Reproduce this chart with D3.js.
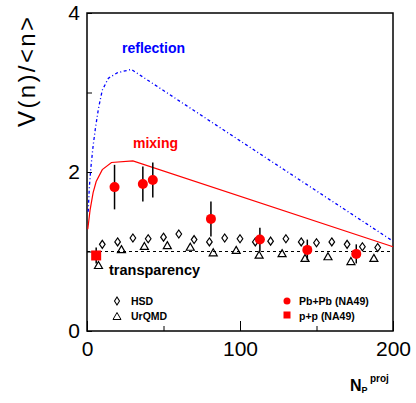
<!DOCTYPE html>
<html>
<head>
<meta charset="utf-8">
<script src="https://cdn.jsdelivr.net/npm/d3@7"></script>
<style>
  body { margin: 0; background: #fff; }
  text { font-family: "Liberation Sans", Arial, Helvetica, sans-serif; }
</style>
</head>
<body>
<svg width="416" height="403"></svg>
<script>
// values
const hsdX = [10, 20, 30, 40, 50, 60, 70, 80, 90, 100, 110, 120, 130, 140, 150, 160, 170, 180, 190];
const hsdY = [1.09, 1.12, 1.17, 1.16, 1.18, 1.22, 1.15, 1.12, 1.17, 1.16, 1.12, 1.13, 1.16, 1.12, 1.11, 1.12, 1.09, 1.06, 1.05];

const urqmdX = [7.5, 22.5, 37.5, 52.5, 67.5, 82.5, 97.5, 112.5, 127.5, 142.5, 157.5, 172.5, 187.5];
const urqmdY = [0.83, 1.03, 1.07, 1.08, 1.06, 0.99, 1.02, 0.96, 0.98, 0.92, 0.94, 0.88, 0.92];

const pbX = [18, 36.5, 43, 81, 113, 144, 176];
const pbY = [1.81, 1.85, 1.90, 1.41, 1.15, 1.02, 0.97];
const pbErr = [0.28, 0.22, 0.22, 0.22, 0.15, 0.13, 0.12];

const ppX = [6];
const ppY = [0.95];
const ppErr = [0.1];

const mixX = [0.5, 1, 2, 4, 6, 10, 16, 30, 200];
const mixY = [1.28, 1.36, 1.52, 1.74, 1.88, 2.03, 2.12, 2.14, 1.06];

const reflX = [0.8, 1.5, 2.5, 4, 5.5, 7.5, 10, 14, 20, 29, 200];
const reflY = [1.5, 1.8, 2.05, 2.33, 2.55, 2.8, 3.03, 3.18, 3.25, 3.29, 1.13];

const xMajor = [0, 100, 200];
const xMinor = [50, 150];
const yTicks = [0, 1, 2, 3, 4];
const yLabels = [0, 2, 4];

const svg = d3.select('svg');

const x = d3.scaleLinear().domain([0, 200]).range([87, 393]);
const y = d3.scaleLinear().domain([0, 4]).range([331, 13]);

// axes, ticks pointing inside the frame
svg.append('g')
  .attr('transform', `translate(0,${y(0)})`)
  .call(d3.axisBottom(x).tickValues(xMajor).tickSize(-10).tickPadding(10).tickFormat(d3.format('d')))
  .call(g => g.select('.domain').remove())
  .call(g => g.selectAll('text').attr('font-size', 21).attr('font-family', null).attr('fill', '#000'));

svg.append('g')
  .attr('transform', `translate(0,${y(0)})`)
  .call(d3.axisBottom(x).tickValues(xMinor).tickSize(-5).tickFormat(''))
  .call(g => g.select('.domain').remove());

svg.append('g')
  .attr('transform', `translate(${x(0)},0)`)
  .call(d3.axisLeft(y).tickValues(yTicks).tickSize(-5).tickPadding(7)
    .tickFormat(d => yLabels.includes(d) ? d : ''))
  .call(g => g.select('.domain').remove())
  .call(g => g.selectAll('text').attr('font-size', 21).attr('font-family', null).attr('fill', '#000'));

svg.selectAll('.tick line').attr('stroke', '#000');

// frame
svg.append('rect')
  .attr('x', x(0)).attr('y', y(4))
  .attr('width', x(200) - x(0)).attr('height', y(0) - y(4))
  .attr('fill', 'none').attr('stroke', '#000').attr('stroke-width', 1.5);

// reference line at 1
svg.append('line')
  .attr('x1', x(0)).attr('x2', x(200))
  .attr('y1', y(1)).attr('y2', y(1))
  .attr('stroke', '#000').attr('stroke-width', 1)
  .attr('stroke-dasharray', '3,3');

const line = d3.line().x(d => x(d[0])).y(d => y(d[1]));

svg.append('path')
  .datum(reflX.map((v, i) => [v, reflY[i]]))
  .attr('d', line)
  .attr('fill', 'none').attr('stroke', '#0000ff').attr('stroke-width', 1.3)
  .attr('stroke-dasharray', '3,2.5,1,2.5');

svg.append('path')
  .datum(mixX.map((v, i) => [v, mixY[i]]))
  .attr('d', line)
  .attr('fill', 'none').attr('stroke', '#ff0000').attr('stroke-width', 1.2);

// model markers
const diamond = (w, h) => `M0,${-h}L${w},0L0,${h}L${-w},0Z`;
const triangle = (w, h) => `M0,${-h / 2}L${w / 2},${h / 2}L${-w / 2},${h / 2}Z`;

svg.append('g').selectAll('path')
  .data(hsdX.map((v, i) => [v, hsdY[i]]))
  .enter().append('path')
  .attr('d', diamond(2.8, 4))
  .attr('transform', d => `translate(${x(d[0])},${y(d[1])})`)
  .attr('fill', 'none').attr('stroke', '#000').attr('stroke-width', 1.2);

svg.append('g').selectAll('path')
  .data(urqmdX.map((v, i) => [v, urqmdY[i]]))
  .enter().append('path')
  .attr('d', triangle(8, 7))
  .attr('transform', d => `translate(${x(d[0])},${y(d[1])})`)
  .attr('fill', 'none').attr('stroke', '#000').attr('stroke-width', 1.2);

// NA49 data with error bars
const pb = pbX.map((v, i) => ({ x: v, y: pbY[i], e: pbErr[i] }));
const pp = ppX.map((v, i) => ({ x: v, y: ppY[i], e: ppErr[i] }));

svg.append('g').selectAll('line')
  .data(pb.concat(pp))
  .enter().append('line')
  .attr('x1', d => x(d.x)).attr('x2', d => x(d.x))
  .attr('y1', d => y(d.y - d.e)).attr('y2', d => y(d.y + d.e))
  .attr('stroke', '#000').attr('stroke-width', 1.5);

svg.append('g').selectAll('circle')
  .data(pb)
  .enter().append('circle')
  .attr('cx', d => x(d.x)).attr('cy', d => y(d.y))
  .attr('r', 5).attr('fill', '#ff0000');

svg.append('g').selectAll('rect')
  .data(pp)
  .enter().append('rect')
  .attr('x', d => x(d.x) - 5).attr('y', d => y(d.y) - 5)
  .attr('width', 10).attr('height', 10)
  .attr('fill', '#ff0000');

// curve labels
svg.append('text').attr('x', 122).attr('y', 53)
  .attr('font-size', 14).attr('font-weight', 'bold').attr('fill', '#0000ff')
  .text('reflection');
svg.append('text').attr('x', 133).attr('y', 148)
  .attr('font-size', 14).attr('font-weight', 'bold').attr('fill', '#ff0000')
  .text('mixing');
svg.append('text').attr('x', 109).attr('y', 275)
  .attr('font-size', 14.5).attr('font-weight', 'bold').attr('fill', '#000')
  .text('transparency');

// legend
const legend = svg.append('g').attr('font-size', 10.5).attr('font-weight', 'bold');
legend.append('path').attr('d', diamond(2.5, 4)).attr('transform', 'translate(117,301)')
  .attr('fill', 'none').attr('stroke', '#000').attr('stroke-width', 1.1);
legend.append('text').attr('x', 131).attr('y', 305).text('HSD');
legend.append('path').attr('d', triangle(8, 7)).attr('transform', 'translate(117,316)')
  .attr('fill', 'none').attr('stroke', '#000').attr('stroke-width', 1);
legend.append('text').attr('x', 131).attr('y', 320).text('UrQMD');
legend.append('circle').attr('cx', 287).attr('cy', 301).attr('r', 3.5).attr('fill', '#ff0000');
legend.append('text').attr('x', 299).attr('y', 305).text('Pb+Pb (NA49)');
legend.append('rect').attr('x', 283.5).attr('y', 311.5).attr('width', 7).attr('height', 7).attr('fill', '#ff0000');
legend.append('text').attr('x', 299).attr('y', 320).text('p+p (NA49)');

// axis titles
svg.append('text')
  .attr('transform', 'translate(35,17) rotate(-90)')
  .attr('text-anchor', 'end')
  .attr('font-size', 24)
  .attr('textLength', 110).attr('lengthAdjust', 'spacing')
  .text('V(n)/<n>');

const xt = svg.append('text').attr('x', 350).attr('y', 391).attr('font-weight', 'bold');
xt.append('tspan').attr('font-size', 16).text('N');
xt.append('tspan').attr('font-size', 9).attr('dy', 2).text('P');
xt.append('tspan').attr('font-size', 10).attr('x', 370).attr('y', 382).text('proj');
</script>
</body>
</html>
